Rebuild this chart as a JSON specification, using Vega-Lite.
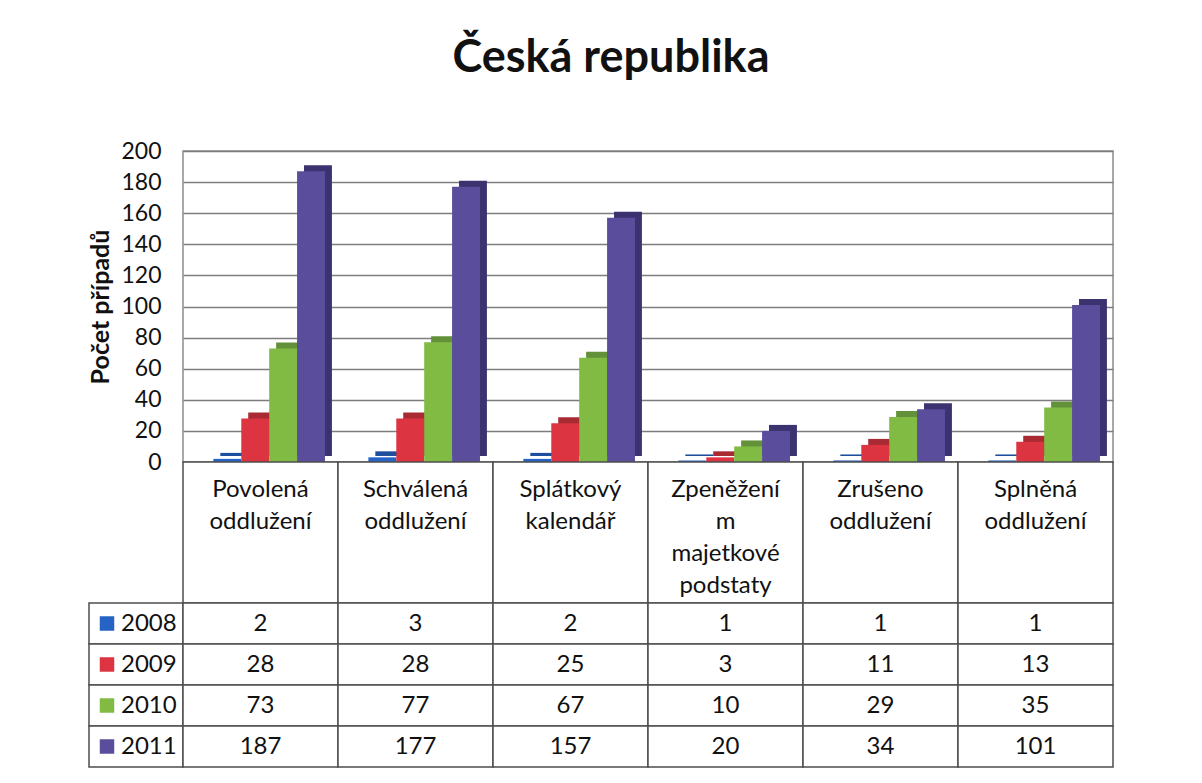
{
  "$schema": "https://vega.github.io/schema/vega-lite/v6.json",
  "background": "white",
  "padding": {"left": 88, "top": 36, "right": 5, "bottom": 5},
  "config": {"font": "Lato", "view": {"stroke": null}, "concat": {"spacing": 0}},
  "title": {"text": "Česká republika", "fontSize": 45, "fontWeight": "bold", "font": "Lato", "color": "#111111", "anchor": "middle", "offset": 58, "dx": 10},
  "datasets": {
    "d": [
      {"kategorie": "Povolená oddlužení", "rok": "2008", "pocet": 2},
      {"kategorie": "Povolená oddlužení", "rok": "2009", "pocet": 28},
      {"kategorie": "Povolená oddlužení", "rok": "2010", "pocet": 73},
      {"kategorie": "Povolená oddlužení", "rok": "2011", "pocet": 187},
      {"kategorie": "Schválená oddlužení", "rok": "2008", "pocet": 3},
      {"kategorie": "Schválená oddlužení", "rok": "2009", "pocet": 28},
      {"kategorie": "Schválená oddlužení", "rok": "2010", "pocet": 77},
      {"kategorie": "Schválená oddlužení", "rok": "2011", "pocet": 177},
      {"kategorie": "Splátkový kalendář", "rok": "2008", "pocet": 2},
      {"kategorie": "Splátkový kalendář", "rok": "2009", "pocet": 25},
      {"kategorie": "Splátkový kalendář", "rok": "2010", "pocet": 67},
      {"kategorie": "Splátkový kalendář", "rok": "2011", "pocet": 157},
      {"kategorie": "Zpeněžením majetkové podstaty", "rok": "2008", "pocet": 1},
      {"kategorie": "Zpeněžením majetkové podstaty", "rok": "2009", "pocet": 3},
      {"kategorie": "Zpeněžením majetkové podstaty", "rok": "2010", "pocet": 10},
      {"kategorie": "Zpeněžením majetkové podstaty", "rok": "2011", "pocet": 20},
      {"kategorie": "Zrušeno oddlužení", "rok": "2008", "pocet": 1},
      {"kategorie": "Zrušeno oddlužení", "rok": "2009", "pocet": 11},
      {"kategorie": "Zrušeno oddlužení", "rok": "2010", "pocet": 29},
      {"kategorie": "Zrušeno oddlužení", "rok": "2011", "pocet": 34},
      {"kategorie": "Splněná oddlužení", "rok": "2008", "pocet": 1},
      {"kategorie": "Splněná oddlužení", "rok": "2009", "pocet": 13},
      {"kategorie": "Splněná oddlužení", "rok": "2010", "pocet": 35},
      {"kategorie": "Splněná oddlužení", "rok": "2011", "pocet": 101}
    ],
    "hdr": [
      {"kategorie": "Povolená oddlužení", "radky": ["Povolená", "oddlužení"]},
      {"kategorie": "Schválená oddlužení", "radky": ["Schválená", "oddlužení"]},
      {"kategorie": "Splátkový kalendář", "radky": ["Splátkový", "kalendář"]},
      {"kategorie": "Zpeněžením majetkové podstaty", "radky": ["Zpeněžení", "m", "majetkové", "podstaty"]},
      {"kategorie": "Zrušeno oddlužení", "radky": ["Zrušeno", "oddlužení"]},
      {"kategorie": "Splněná oddlužení", "radky": ["Splněná", "oddlužení"]}
    ],
    "roky": [{"rok": "2008"}, {"rok": "2009"}, {"rok": "2010"}, {"rok": "2011"}]
  },
  "columns": 2,
  "spacing": 0,
  "bounds": "flush",
  "resolve": {"scale": {"x": "independent", "y": "independent", "color": "independent"}},
  "concat": [
    {
      "width": 94, "height": 311,
      "data": {"values": [{}]},
      "mark": {"type": "text", "text": ""},
      "encoding": {}
    },
    {
      "width": 930, "height": 311,
      "data": {"name": "d"},
      "view": {"stroke": "#8c8c8c", "strokeWidth": 1.5},
      "resolve": {"scale": {"x": "independent", "color": "independent"}},
      "encoding": {
        "y": {
          "field": "pocet", "type": "quantitative",
          "scale": {"domain": [0, 200], "nice": false},
          "axis": {
            "title": "Počet případů", "titleFontSize": 25, "titleFontWeight": "bold", "titleColor": "#111111", "titlePadding": 7,
            "labelFontSize": 23, "labelColor": "#111111", "labelPadding": 22,
            "ticks": false, "domain": false,
            "values": [0, 20, 40, 60, 80, 100, 120, 140, 160, 180, 200],
            "grid": true, "gridColor": "#7d7d7d", "gridWidth": 1.5
          }
        }
      },
      "layer": [
        {
          "mark": {"type": "bar", "yOffset": -6},
          "encoding": {
            "x": {"field": "kategorie", "type": "nominal", "sort": ["Povolená oddlužení", "Schválená oddlužení", "Splátkový kalendář", "Zpeněžením majetkové podstaty", "Zrušeno oddlužení", "Splněná oddlužení"], "scale": {"paddingInner": 0.28, "paddingOuter": 0.14, "align": 0.86}, "axis": null},
            "xOffset": {"field": "rok", "type": "nominal", "scale": {"paddingInner": 0, "paddingOuter": 0}},
            "color": {"field": "rok", "type": "nominal", "scale": {"domain": ["2008", "2009", "2010", "2011"], "range": ["#1d4f9e", "#a82a33", "#62913a", "#3b3270"]}, "legend": null}
          }
        },
        {
          "mark": {"type": "bar"},
          "encoding": {
            "x": {"field": "kategorie", "type": "nominal", "sort": ["Povolená oddlužení", "Schválená oddlužení", "Splátkový kalendář", "Zpeněžením majetkové podstaty", "Zrušeno oddlužení", "Splněná oddlužení"], "scale": {"paddingInner": 0.28, "paddingOuter": 0.14, "align": 0.7}, "axis": null},
            "xOffset": {"field": "rok", "type": "nominal", "scale": {"paddingInner": 0, "paddingOuter": 0}},
            "color": {"field": "rok", "type": "nominal", "scale": {"domain": ["2008", "2009", "2010", "2011"], "range": ["#2563c4", "#dc3541", "#82bb44", "#5a4e9c"]}, "legend": null}
          }
        }
      ]
    },
    {
      "width": 94, "height": 141,
      "data": {"values": [{}]},
      "mark": {"type": "text", "text": ""},
      "encoding": {}
    },
    {
      "width": 930, "height": 141,
      "data": {"name": "hdr"},
      "encoding": {
        "x": {"field": "kategorie", "type": "nominal", "sort": ["Povolená oddlužení", "Schválená oddlužení", "Splátkový kalendář", "Zpeněžením majetkové podstaty", "Zrušeno oddlužení", "Splněná oddlužení"], "scale": {"paddingInner": 0, "paddingOuter": 0}, "axis": null}
      },
      "layer": [
        {"mark": {"type": "bar", "fill": "white", "stroke": "#4d4d4d", "strokeWidth": 1.5}},
        {"mark": {"type": "text", "baseline": "top", "yOffset": -55, "fontSize": 24, "lineHeight": 32, "color": "#111111"},
         "encoding": {"text": {"field": "radky", "type": "nominal"}}}
      ]
    },
    {
      "width": 94, "height": 164,
      "data": {"name": "roky"},
      "encoding": {
        "y": {"field": "rok", "type": "ordinal", "scale": {"paddingInner": 0, "paddingOuter": 0}, "axis": null}
      },
      "layer": [
        {"mark": {"type": "bar", "fill": "white", "stroke": "#4d4d4d", "strokeWidth": 1.5}},
        {"mark": {"type": "square", "size": 210, "opacity": 1, "xOffset": -29},
         "encoding": {"color": {"field": "rok", "type": "nominal", "scale": {"domain": ["2008", "2009", "2010", "2011"], "range": ["#2563c4", "#dc3541", "#82bb44", "#5a4e9c"]}, "legend": null}}},
        {"mark": {"type": "text", "align": "left", "dx": -15, "fontSize": 24, "color": "#111111"},
         "encoding": {"text": {"field": "rok", "type": "nominal"}}}
      ]
    },
    {
      "width": 930, "height": 164,
      "data": {"name": "d"},
      "encoding": {
        "x": {"field": "kategorie", "type": "nominal", "sort": ["Povolená oddlužení", "Schválená oddlužení", "Splátkový kalendář", "Zpeněžením majetkové podstaty", "Zrušeno oddlužení", "Splněná oddlužení"], "scale": {"paddingInner": 0, "paddingOuter": 0}, "axis": null},
        "y": {"field": "rok", "type": "ordinal", "scale": {"paddingInner": 0, "paddingOuter": 0}, "axis": null}
      },
      "layer": [
        {"mark": {"type": "rect", "fill": "white", "stroke": "#4d4d4d", "strokeWidth": 1.5}},
        {"mark": {"type": "text", "fontSize": 24, "color": "#111111"},
         "encoding": {"text": {"field": "pocet", "type": "quantitative"}}}
      ]
    }
  ]
}
